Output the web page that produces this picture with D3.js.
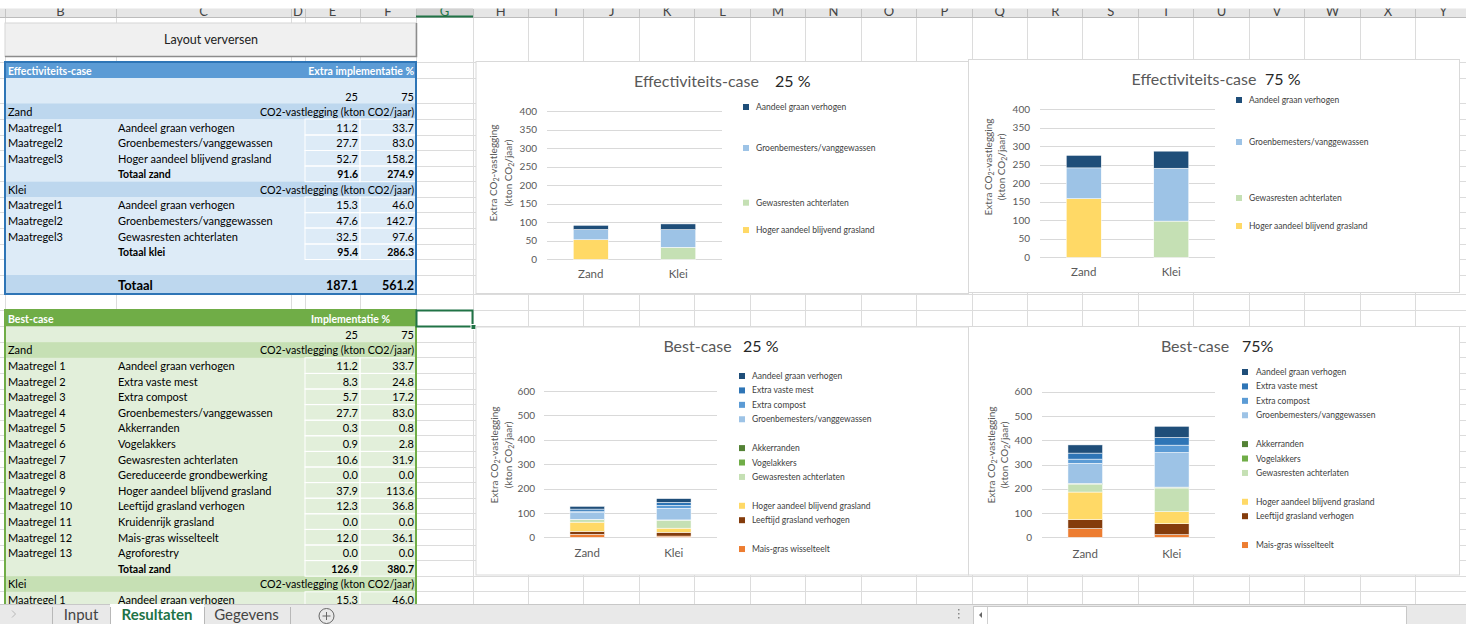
<!DOCTYPE html>
<html>
<head>
<meta charset="utf-8">
<script src="https://cdn.jsdelivr.net/npm/d3@7"></script>
<style>
  html, body { margin: 0; padding: 0; background: #fff; overflow: hidden; }
  svg { display: block; }
</style>
</head>
<body>
<svg id="sheet" width="1466" height="624"></svg>
<script>
// ---------- data ----------
const soils = ["Zand", "Klei"];
const pctLevels = ["25", "75"];

// all measures, in table order
const measures = [
  "Aandeel graan verhogen", "Extra vaste mest", "Extra compost",
  "Groenbemesters/vanggewassen", "Akkerranden", "Vogelakkers",
  "Gewasresten achterlaten", "Gereduceerde grondbewerking",
  "Hoger aandeel blijvend grasland", "Leeftijd grasland verhogen",
  "Kruidenrijk grasland", "Mais-gras wisselteelt", "Agroforestry"
];
const measureColors = [
  "#1f4e79", "#2e75b6", "#5b9bd5", "#9dc3e6", "#548235", "#70ad47",
  "#c5e0b4", "#a9d18e", "#ffd966", "#843c0c", "#f4b183", "#ed7d31", "#375623"
];

// Effectiviteits-case (kton CO2/jaar)
const effCodes = ["Maatregel1", "Maatregel2", "Maatregel3"];
const effZandNames = ["Aandeel graan verhogen", "Groenbemesters/vanggewassen", "Hoger aandeel blijvend grasland"];
const effZand25 = [11.2, 27.7, 52.7];
const effZand75 = [33.7, 83.0, 158.2];
const effKleiNames = ["Aandeel graan verhogen", "Groenbemesters/vanggewassen", "Gewasresten achterlaten"];
const effKlei25 = [15.3, 47.6, 32.5];
const effKlei75 = [46.0, 142.7, 97.6];
const effTotZand = [91.6, 274.9];
const effTotKlei = [95.4, 286.3];
const effTotAll = [187.1, 561.2];

// Best-case (kton CO2/jaar), one value per measure
const bestCodes = ["Maatregel 1", "Maatregel 2", "Maatregel 3", "Maatregel 4", "Maatregel 5",
  "Maatregel 6", "Maatregel 7", "Maatregel 8", "Maatregel 9", "Maatregel 10",
  "Maatregel 11", "Maatregel 12", "Maatregel 13"];
const bestZand25 = [11.2, 8.3, 5.7, 27.7, 0.3, 0.9, 10.6, 0.0, 37.9, 12.3, 0.0, 12.0, 0.0];
const bestZand75 = [33.7, 24.8, 17.2, 83.0, 0.8, 2.8, 31.9, 0.0, 113.6, 36.8, 0.0, 36.1, 0.0];
const bestKlei25 = [15.3, 12.5, 12.0, 47.6, 0.3, 1.0, 32.5, 0.0, 17.0, 15.5, 0.0, 5.0, 0.0];
const bestKlei75 = [46.0, 31.6, 30.2, 142.7, 0.9, 2.9, 97.6, 0.0, 49.5, 45.0, 0.0, 11.0, 0.0];
const bestTotZand = [126.9, 380.7];

// legend slots (blank = reserved line)
const effLegend = ["Aandeel graan verhogen", "", "", "Groenbemesters/vanggewassen", "", "", "",
  "Gewasresten achterlaten", "", "Hoger aandeel blijvend grasland"];
const bestLegend = ["Aandeel graan verhogen", "Extra vaste mest", "Extra compost",
  "Groenbemesters/vanggewassen", "", "Akkerranden", "Vogelakkers", "Gewasresten achterlaten", "",
  "Hoger aandeel blijvend grasland", "Leeftijd grasland verhogen", "", "Mais-gras wisselteelt"];

const colLetters = ["B","C","D","E","F","G","H","I","J","K","L","M","N","O","P","Q","R","S","T","U","V","W","X","Y"];
const sheetTabs = ["Input", "Resultaten", "Gegevens"];

// ---------- setup ----------
const W = 1466, H = 624;
const FONT = "Lato, 'Open Sans', sans-serif";
const svg = d3.select("#sheet");
const fmt = d3.format(".1f");
const colorOf = new Map(measures.map((m, i) => [m, measureColors[i]]));

function txt(g, x, y, s, o = {}) {
  return g.append("text")
    .attr("x", x).attr("y", y)
    .attr("font-family", FONT)
    .attr("font-size", o.size || 11)
    .attr("font-weight", o.bold ? "bold" : null)
    .attr("fill", o.fill || "#000")
    .attr("text-anchor", o.anchor || "start")
    .text(s);
}

svg.append("rect").attr("width", W).attr("height", H).attr("fill", "#fff");

// ---------- sheet grid ----------
const colX = [5, 116, 291, 305, 360, 416, 473].concat(d3.range(1, 19).map(k => 473 + k * 55.45));
const rowY = [62, 78, 103.5, 119, 135, 150.5, 166, 181.7, 197, 212.7, 228, 244, 259.5, 275, 294, 310, 326.5]
  .concat(d3.range(0, 17).map(k => 342.2 + k * 15.6));

const grid = svg.append("g").attr("stroke", "#dcdcdc").attr("shape-rendering", "crispEdges");
colX.forEach(x => grid.append("line").attr("x1", x).attr("x2", x).attr("y1", 17).attr("y2", 604));
rowY.forEach(y => grid.append("line").attr("x1", 0).attr("x2", W).attr("y1", y).attr("y2", y));

// ---------- column header ----------
const hdr = svg.append("g");
hdr.append("clipPath").attr("id", "hdrclip").append("rect")
  .attr("x", 0).attr("y", 8.5).attr("width", W).attr("height", 8.5);
hdr.append("rect").attr("x", 0).attr("y", 8.5).attr("width", W).attr("height", 8.5).attr("fill", "#e6e6e6");
hdr.append("rect").attr("x", 416).attr("y", 8.5).attr("width", 57).attr("height", 8.5).attr("fill", "#d2d2d2");
colX.forEach(x => hdr.append("line").attr("x1", x).attr("x2", x).attr("y1", 8.5).attr("y2", 17)
  .attr("stroke", "#c4c4c4").attr("shape-rendering", "crispEdges"));
hdr.append("line").attr("x1", 0).attr("x2", W).attr("y1", 17).attr("y2", 17)
  .attr("stroke", "#bcbcbc").attr("shape-rendering", "crispEdges");
hdr.append("rect").attr("x", 416).attr("y", 15.5).attr("width", 57).attr("height", 2).attr("fill", "#217346");
const hdrText = hdr.append("g").attr("clip-path", "url(#hdrclip)");
colLetters.forEach((L, i) => {
  const cx = (colX[i] + colX[i + 1]) / 2;
  txt(hdrText, cx, 15.5, L, { size: 13, fill: i === 5 ? "#217346" : "#444", anchor: "middle" });
});

// ---------- button ----------
const btn = svg.append("g");
btn.append("rect").attr("x", 5).attr("y", 23).attr("width", 411).attr("height", 33.5)
  .attr("fill", "#f0f0f0").attr("stroke", "#d6d6d6");
btn.append("path").attr("d", "M5,56.5 H416.5 V23").attr("fill", "none").attr("stroke", "#8c8c8c").attr("stroke-width", 1.5);
txt(btn, 211, 44, "Layout verversen", { size: 12.5, fill: "#222", anchor: "middle" });

// ---------- Effectiviteits-case table ----------
function drawTableRowFill(g, y0, y1, fill) {
  g.append("rect").attr("x", 5).attr("y", y0).attr("width", 411).attr("height", y1 - y0).attr("fill", fill);
}
function valueCells(g, y0, y1) {
  g.append("rect").attr("x", 305).attr("y", y0).attr("width", 55).attr("height", y1 - y0)
    .attr("fill", "none").attr("stroke", "#fff");
  g.append("rect").attr("x", 360).attr("y", y0).attr("width", 56).attr("height", y1 - y0)
    .attr("fill", "none").attr("stroke", "#fff");
}

const blue = svg.append("g");
const bR = [62, 78, 103.5, 119, 135, 150.5, 166, 181.7, 197, 212.7, 228, 244, 259.5, 275, 294];
const bLight = "#ddebf7", bBand = "#bdd7ee";
drawTableRowFill(blue, bR[0], bR[1], "#5b9bd5");
drawTableRowFill(blue, bR[1], bR[13], bLight);
drawTableRowFill(blue, bR[2], bR[3], bBand);
drawTableRowFill(blue, bR[7], bR[8], bBand);
drawTableRowFill(blue, bR[13], bR[14], bBand);
txt(blue, 8, bR[1] - 3.5, "Effectiviteits-case", { size: 10.5, bold: true, fill: "#fff" });
txt(blue, 414, bR[1] - 3.5, "Extra implementatie %", { size: 10.5, bold: true, fill: "#fff", anchor: "end" });
txt(blue, 358, bR[2] - 3, pctLevels[0], { anchor: "end" });
txt(blue, 414, bR[2] - 3, pctLevels[1], { anchor: "end" });

function effBlock(startRow, soil, names, v25, v75, tot, totLabel) {
  txt(blue, 8, bR[startRow + 1] - 3.5, soil);
  txt(blue, 414, bR[startRow + 1] - 3.5, "CO2-vastlegging (kton CO2/jaar)", { size: 10.7, anchor: "end" });
  names.forEach((n, i) => {
    const r = startRow + 1 + i;
    valueCells(blue, bR[r], bR[r + 1]);
    txt(blue, 8, bR[r + 1] - 3.5, effCodes[i]);
    txt(blue, 118, bR[r + 1] - 3.5, n);
    txt(blue, 358, bR[r + 1] - 3.5, fmt(v25[i]), { anchor: "end" });
    txt(blue, 414, bR[r + 1] - 3.5, fmt(v75[i]), { anchor: "end" });
  });
  const r = startRow + 1 + names.length;
  valueCells(blue, bR[r], bR[r + 1]);
  txt(blue, 118, bR[r + 1] - 3.5, totLabel, { bold: true, size: 10.5 });
  txt(blue, 358, bR[r + 1] - 3.5, fmt(tot[0]), { bold: true, size: 10.5, anchor: "end" });
  txt(blue, 414, bR[r + 1] - 3.5, fmt(tot[1]), { bold: true, size: 10.5, anchor: "end" });
}
effBlock(2, soils[0], effZandNames, effZand25, effZand75, effTotZand, "Totaal zand");
effBlock(7, soils[1], effKleiNames, effKlei25, effKlei75, effTotKlei, "Totaal klei");
txt(blue, 118, bR[14] - 4, "Totaal", { bold: true, size: 13 });
txt(blue, 358, bR[14] - 4, fmt(effTotAll[0]), { bold: true, size: 12.5, anchor: "end" });
txt(blue, 414, bR[14] - 4, fmt(effTotAll[1]), { bold: true, size: 12.5, anchor: "end" });
blue.append("rect").attr("x", 5).attr("y", 62).attr("width", 411).attr("height", 232)
  .attr("fill", "none").attr("stroke", "#2e75b6").attr("stroke-width", 2);

// ---------- Best-case table ----------
const green = svg.append("g");
const gR = [310, 326.5].concat(d3.range(0, 18).map(k => 342.2 + k * 15.6));
const gLight = "#e2efda", gBand = "#c6e0b4";
drawTableRowFill(green, gR[0], gR[1], "#70ad47");
drawTableRowFill(green, gR[1], 604, gLight);
drawTableRowFill(green, gR[2], gR[3], gBand);
drawTableRowFill(green, gR[17], gR[18], gBand);
txt(green, 8, gR[1] - 4, "Best-case", { size: 10.5, bold: true, fill: "#fff" });
txt(green, 390, gR[1] - 4, "Implementatie %", { size: 10.5, bold: true, fill: "#fff", anchor: "end" });
txt(green, 358, gR[2] - 3.5, pctLevels[0], { anchor: "end" });
txt(green, 414, gR[2] - 3.5, pctLevels[1], { anchor: "end" });
txt(green, 8, gR[3] - 3.5, soils[0]);
txt(green, 414, gR[3] - 3.5, "CO2-vastlegging (kton CO2/jaar)", { size: 10.7, anchor: "end" });
measures.forEach((m, i) => {
  const r = 3 + i;
  valueCells(green, gR[r], gR[r + 1]);
  txt(green, 8, gR[r + 1] - 3.5, bestCodes[i]);
  txt(green, 118, gR[r + 1] - 3.5, m);
  txt(green, 358, gR[r + 1] - 3.5, fmt(bestZand25[i]), { anchor: "end" });
  txt(green, 414, gR[r + 1] - 3.5, fmt(bestZand75[i]), { anchor: "end" });
});
valueCells(green, gR[16], gR[17]);
txt(green, 118, gR[17] - 3.5, "Totaal zand", { bold: true, size: 10.5 });
txt(green, 358, gR[17] - 3.5, fmt(bestTotZand[0]), { bold: true, size: 10.5, anchor: "end" });
txt(green, 414, gR[17] - 3.5, fmt(bestTotZand[1]), { bold: true, size: 10.5, anchor: "end" });
txt(green, 8, gR[18] - 3.5, soils[1]);
txt(green, 414, gR[18] - 3.5, "CO2-vastlegging (kton CO2/jaar)", { size: 10.7, anchor: "end" });
valueCells(green, gR[18], gR[19]);
txt(green, 8, gR[19] - 3.5, bestCodes[0]);
txt(green, 118, gR[19] - 3.5, measures[0]);
txt(green, 358, gR[19] - 3.5, fmt(bestKlei25[0]), { anchor: "end" });
txt(green, 414, gR[19] - 3.5, fmt(bestKlei75[0]), { anchor: "end" });
green.append("path").attr("d", "M5,604 V310 H416 V604").attr("fill", "none")
  .attr("stroke", "#70ad47").attr("stroke-width", 2);

// selected cell
svg.append("rect").attr("x", 416.5).attr("y", 310.5).attr("width", 56).attr("height", 16)
  .attr("fill", "none").attr("stroke", "#217346").attr("stroke-width", 2);
svg.append("rect").attr("x", 471).attr("y", 324.5).attr("width", 5).attr("height", 5)
  .attr("fill", "#217346").attr("stroke", "#fff");

// ---------- charts ----------
function buildRows(names, vals) {
  // vals: [zandValues, kleiValues] aligned with the name lists
  return soils.map((s, si) => {
    const row = { soil: s };
    measures.forEach(m => { row[m] = 0; });
    names[si].forEach((n, i) => { row[n] = vals[si][i]; });
    return row;
  });
}

function drawChart(c) {
  const g = svg.append("g");
  g.append("rect").attr("x", c.frame[0]).attr("y", c.frame[1]).attr("width", c.frame[2]).attr("height", c.frame[3])
    .attr("fill", "#fff").attr("stroke", "#d9d9d9");

  txt(g, c.titleX, c.titleY, c.title, { size: 16, fill: "#595959", anchor: "middle" });
  txt(g, c.pctX, c.titleY, c.pct, { size: 16, fill: "#262626" });

  const y = d3.scaleLinear().domain([0, c.yMax]).range([c.plotY0, c.plotY1]);
  const x = d3.scaleBand().domain(soils).range([c.plotX0, c.plotX1]);
  const bw = x.bandwidth() * 0.4;

  const yAxis = g.append("g").attr("transform", `translate(${c.plotX0},0)`)
    .call(d3.axisLeft(y).tickValues(d3.range(0, c.yMax + 1, c.yStep))
      .tickSize(-(c.plotX1 - c.plotX0)).tickPadding(c.plotX0 - c.labelX));
  yAxis.select(".domain").remove();
  yAxis.selectAll(".tick line").attr("stroke", "#d9d9d9").attr("shape-rendering", "crispEdges");
  yAxis.selectAll(".tick text").attr("font-family", FONT).attr("font-size", 10).attr("fill", "#595959");

  const xAxis = g.append("g").attr("transform", `translate(0,${c.plotY0})`)
    .call(d3.axisBottom(x).tickSize(0).tickPadding(c.catY - c.plotY0 - 4.2));
  xAxis.select(".domain").remove();
  xAxis.selectAll(".tick text").attr("font-family", FONT).attr("font-size", 11.5).attr("fill", "#595959");

  const keys = measures.slice().reverse();
  const stacked = d3.stack().keys(keys)(c.rows);
  g.append("g").selectAll("g").data(stacked).join("g")
    .attr("fill", d => colorOf.get(d.key))
    .selectAll("rect").data(d => d.filter(p => p[1] - p[0] > 0)).join("rect")
    .attr("x", d => x(d.data.soil) + (x.bandwidth() - bw) / 2)
    .attr("y", d => y(d[1]))
    .attr("width", bw)
    .attr("height", d => y(d[0]) - y(d[1]))
    .attr("stroke", "#fff").attr("stroke-width", 0.5);

  // axis title
  const at = g.append("g").attr("font-family", FONT).attr("font-size", 10).attr("fill", "#595959");
  [[c.axX1, "Extra CO", "-vastlegging"], [c.axX2, "(kton CO", "/jaar)"]].forEach(([ax, a, b]) => {
    const t = at.append("text").attr("transform", `translate(${ax},${c.axY}) rotate(-90)`)
      .attr("text-anchor", "middle").attr("dy", "0.35em");
    t.append("tspan").text(a);
    t.append("tspan").text("2").attr("font-size", 7).attr("dy", 2);
    t.append("tspan").text(b).attr("dy", -2);
  });

  // legend
  const lg = g.append("g");
  c.legend.forEach((name, i) => {
    if (!name) return;
    const ly = c.legY + i * c.legStep;
    lg.append("rect").attr("x", c.legMX - 3).attr("y", ly - 3).attr("width", 6).attr("height", 6)
      .attr("fill", colorOf.get(name));
    txt(lg, c.legTX, ly + 3, name, { size: 8.5, fill: "#404040" });
  });
}

const effRows25 = buildRows([effZandNames, effKleiNames], [effZand25, effKlei25]);
const effRows75 = buildRows([effZandNames, effKleiNames], [effZand75, effKlei75]);
const bestRows25 = buildRows([measures, measures], [bestZand25, bestKlei25]);
const bestRows75 = buildRows([measures, measures], [bestZand75, bestKlei75]);

drawChart({
  frame: [476, 61.5, 492.5, 232], title: "Effectiviteits-case", pct: "25 %",
  titleX: 696.5, titleY: 86.5, pctX: 775,
  yMax: 400, yStep: 50, plotX0: 547, plotX1: 722, plotY0: 259.3, plotY1: 111, labelX: 537,
  catY: 274, axX1: 493, axX2: 508, axY: 173,
  legMX: 746, legTX: 756, legY: 107, legStep: 13.67, legend: effLegend, rows: effRows25
});
drawChart({
  frame: [968.5, 59.5, 491, 233], title: "Effectiviteits-case", pct: "75 %",
  titleX: 1194, titleY: 84.5, pctX: 1265,
  yMax: 400, yStep: 50, plotX0: 1040, plotX1: 1215, plotY0: 257.3, plotY1: 109, labelX: 1030,
  catY: 272, axX1: 988, axX2: 1001, axY: 167,
  legMX: 1239, legTX: 1249, legY: 100, legStep: 14, legend: effLegend, rows: effRows75
});
drawChart({
  frame: [476, 327, 492.5, 248], title: "Best-case", pct: "25 %",
  titleX: 697.5, titleY: 351.5, pctX: 743,
  yMax: 600, yStep: 100, plotX0: 544, plotX1: 717, plotY0: 537.3, plotY1: 391, labelX: 535,
  catY: 553, axX1: 494, axX2: 508, axY: 455,
  legMX: 742, legTX: 752, legY: 376, legStep: 14.42, legend: bestLegend, rows: bestRows25
});
drawChart({
  frame: [968.5, 326.5, 491, 248.5], title: "Best-case", pct: "75%",
  titleX: 1195, titleY: 351.5, pctX: 1242,
  yMax: 600, yStep: 100, plotX0: 1042, plotX1: 1215, plotY0: 537.3, plotY1: 391.7, labelX: 1032,
  catY: 554, axX1: 991, axX2: 1004, axY: 455,
  legMX: 1245, legTX: 1256, legY: 372, legStep: 14.42, legend: bestLegend, rows: bestRows75
});

// ---------- sheet tabs ----------
const tb = svg.append("g");
tb.append("rect").attr("x", 0).attr("y", 604).attr("width", W).attr("height", 20).attr("fill", "#e9e9e9");
tb.append("line").attr("x1", 0).attr("x2", W).attr("y1", 604.5).attr("y2", 604.5).attr("stroke", "#c8c8c8");
tb.append("rect").attr("x", 110).attr("y", 604).attr("width", 94).attr("height", 20).attr("fill", "#fff");
tb.append("path").attr("d", "M12,610.5 L15.5,614 L12,617.5").attr("fill", "none").attr("stroke", "#b8b8b8");
[52, 110, 204, 290].forEach(x => tb.append("line").attr("x1", x).attr("x2", x).attr("y1", 607).attr("y2", 624)
  .attr("stroke", "#b8b8b8").attr("shape-rendering", "crispEdges"));
txt(tb, 81, 620, sheetTabs[0], { size: 15, fill: "#444", anchor: "middle" });
txt(tb, 157, 620, sheetTabs[1], { size: 15, bold: true, fill: "#217346", anchor: "middle" });
txt(tb, 246.5, 620, sheetTabs[2], { size: 15, fill: "#444", anchor: "middle" });
tb.append("circle").attr("cx", 326.5).attr("cy", 616).attr("r", 7.5).attr("fill", "none").attr("stroke", "#666");
tb.append("path").attr("d", "M322.5,616 H330.5 M326.5,612 V620").attr("stroke", "#666");
[609, 613, 617].forEach(yy => tb.append("rect").attr("x", 958).attr("y", yy).attr("width", 1.5).attr("height", 1.5).attr("fill", "#888"));
tb.append("rect").attr("x", 973.5).attr("y", 606.5).attr("width", 433).attr("height", 18)
  .attr("fill", "#fff").attr("stroke", "#c8c8c8");
tb.append("path").attr("d", "M982,612 L979,615 L982,618 Z").attr("fill", "#666");
tb.append("line").attr("x1", 987.5).attr("x2", 987.5).attr("y1", 607).attr("y2", 624).attr("stroke", "#d0d0d0");
</script>
</body>
</html>
